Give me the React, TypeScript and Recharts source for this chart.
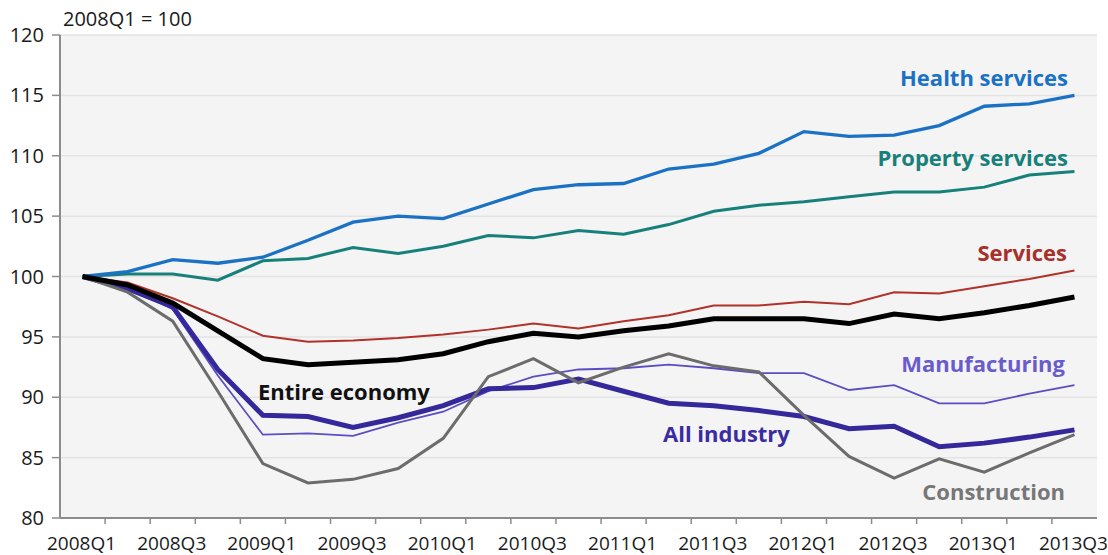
import React from "react";
import {
  LineChart,
  Line,
  XAxis,
  YAxis,
  CartesianGrid,
  Customized,
} from "recharts";

const quarters = [
  "2008Q1", "2008Q2", "2008Q3", "2008Q4",
  "2009Q1", "2009Q2", "2009Q3", "2009Q4",
  "2010Q1", "2010Q2", "2010Q3", "2010Q4",
  "2011Q1", "2011Q2", "2011Q3", "2011Q4",
  "2012Q1", "2012Q2", "2012Q3", "2012Q4",
  "2013Q1", "2013Q2", "2013Q3",
];

const health = [100, 100.4, 101.4, 101.1, 101.6, 103.0, 104.5, 105.0, 104.8, 106.0, 107.2, 107.6, 107.7, 108.9, 109.3, 110.2, 112.0, 111.6, 111.7, 112.5, 114.1, 114.3, 115.0];
const property = [100, 100.2, 100.2, 99.7, 101.3, 101.5, 102.4, 101.9, 102.5, 103.4, 103.2, 103.8, 103.5, 104.3, 105.4, 105.9, 106.2, 106.6, 107.0, 107.0, 107.4, 108.4, 108.7];
const services = [100, 99.5, 98.2, 96.7, 95.1, 94.6, 94.7, 94.9, 95.2, 95.6, 96.1, 95.7, 96.3, 96.8, 97.6, 97.6, 97.9, 97.7, 98.7, 98.6, 99.2, 99.8, 100.5];
const economy = [100, 99.3, 97.8, 95.5, 93.2, 92.7, 92.9, 93.1, 93.6, 94.6, 95.3, 95.0, 95.5, 95.9, 96.5, 96.5, 96.5, 96.1, 96.9, 96.5, 97.0, 97.6, 98.3];
const manufacturing = [100, 99.1, 97.3, 91.8, 86.9, 87.0, 86.8, 87.9, 88.8, 90.5, 91.7, 92.3, 92.4, 92.7, 92.4, 92.0, 92.0, 90.6, 91.0, 89.5, 89.5, 90.3, 91.0];
const industry = [100, 99.0, 97.5, 92.3, 88.5, 88.4, 87.5, 88.3, 89.3, 90.7, 90.8, 91.5, 90.5, 89.5, 89.3, 88.9, 88.4, 87.4, 87.6, 85.9, 86.2, 86.7, 87.3];
const construction = [100, 98.7, 96.3, 90.5, 84.5, 82.9, 83.2, 84.1, 86.6, 91.7, 93.2, 91.2, 92.5, 93.6, 92.6, 92.1, 88.5, 85.1, 83.3, 84.9, 83.8, 85.4, 86.9];

const yTicks = [80, 85, 90, 95, 100, 105, 110, 115, 120];

const data = quarters.map((q, i) => ({
  q,
  health: health[i],
  property: property[i],
  services: services[i],
  economy: economy[i],
  manufacturing: manufacturing[i],
  industry: industry[i],
  construction: construction[i],
}));

const W = 1108;
const H = 555;
const MARGIN = { top: 35, right: 11, bottom: 0, left: 0 };
const Y_W = 60;
const X_H = 37;
const PLOT_W = W - MARGIN.left - MARGIN.right - Y_W;
const BAND = PLOT_W / quarters.length;
const HALF = BAND / 2;
const AXIS_COLOR = "#8c8c8c";
const FONT = "'Open Sans', 'Noto Sans', sans-serif";

const XTick = (props: any) => {
  const { x, y, payload } = props;
  const i = payload.index;
  return (
    <g>
      {i > 0 && (
        <line x1={x - HALF} x2={x - HALF} y1={y} y2={y + 6} stroke={AXIS_COLOR} strokeWidth={1.5} />
      )}
      {i % 2 === 0 && (
        <text
          x={x - 1}
          y={y + 25}
          textAnchor="middle"
          dominantBaseline="central"
          fontSize={19}
          fontFamily={FONT}
          fill="#1a1a1a"
        >
          {payload.value}
        </text>
      )}
    </g>
  );
};

const labels = [
  { text: "Health services", x: 1068, y: 77, anchor: "end", color: "#1b72c4" },
  { text: "Property services", x: 1068, y: 157, anchor: "end", color: "#17807a" },
  { text: "Services", x: 1067, y: 252, anchor: "end", color: "#a8302a" },
  { text: "Manufacturing", x: 1065, y: 363, anchor: "end", color: "#6b5ccb" },
  { text: "Construction", x: 1065, y: 491, anchor: "end", color: "#777777" },
  { text: "All industry", x: 663, y: 433, anchor: "start", color: "#3a2ca3" },
  { text: "Entire economy", x: 258, y: 391, anchor: "start", color: "#111111" },
];

const Labels = () => (
  <g>
    <text x={63} y={26} fontSize={20} fontFamily={FONT} fill="#1a1a1a">
      2008Q1 = 100
    </text>
    {labels.map((l) => (
      <text
        key={l.text}
        x={l.x}
        y={l.y}
        textAnchor={l.anchor as any}
        dominantBaseline="central"
        fontSize={22}
        fontWeight="bold"
        fontFamily={FONT}
        fill={l.color}
      >
        {l.text}
      </text>
    ))}
  </g>
);

export default function App() {
  return (
    <div style={{ position: "absolute", left: 0, top: 0, width: W, height: H, background: "#fff" }}>
      <LineChart width={W} height={H} data={data} margin={MARGIN}>
        <CartesianGrid vertical={false} stroke="#e3e3e3" strokeWidth={1.5} fill="#f4f4f4" />
        <XAxis
          dataKey="q"
          interval={0}
          padding={{ left: HALF, right: HALF }}
          height={X_H}
          tickLine={false}
          tickSize={0}
          tickMargin={0}
          tick={<XTick />}
          axisLine={{ stroke: AXIS_COLOR, strokeWidth: 2 }}
        />
        <YAxis
          domain={[80, 120]}
          ticks={yTicks}
          width={Y_W}
          tickSize={8}
          tickMargin={8}
          tickLine={{ stroke: AXIS_COLOR, strokeWidth: 1.5 }}
          axisLine={{ stroke: AXIS_COLOR, strokeWidth: 2 }}
          tick={{ fontSize: 20, fontFamily: FONT, fill: "#1a1a1a" }}
          interval={0}
        />
        <Line dataKey="manufacturing" stroke="#5b4dc2" strokeWidth={1.8} dot={false} isAnimationActive={false} />
        <Line dataKey="industry" stroke="#34289b" strokeWidth={5} dot={false} isAnimationActive={false} />
        <Line dataKey="construction" stroke="#6c6c6c" strokeWidth={3} dot={false} isAnimationActive={false} />
        <Line dataKey="services" stroke="#b0322a" strokeWidth={2} dot={false} isAnimationActive={false} />
        <Line dataKey="property" stroke="#17807a" strokeWidth={3} dot={false} isAnimationActive={false} />
        <Line dataKey="health" stroke="#1b72c4" strokeWidth={3.3} dot={false} isAnimationActive={false} />
        <Line dataKey="economy" stroke="#000000" strokeWidth={5} dot={false} isAnimationActive={false} />
        <Customized component={Labels} />
      </LineChart>
    </div>
  );
}
